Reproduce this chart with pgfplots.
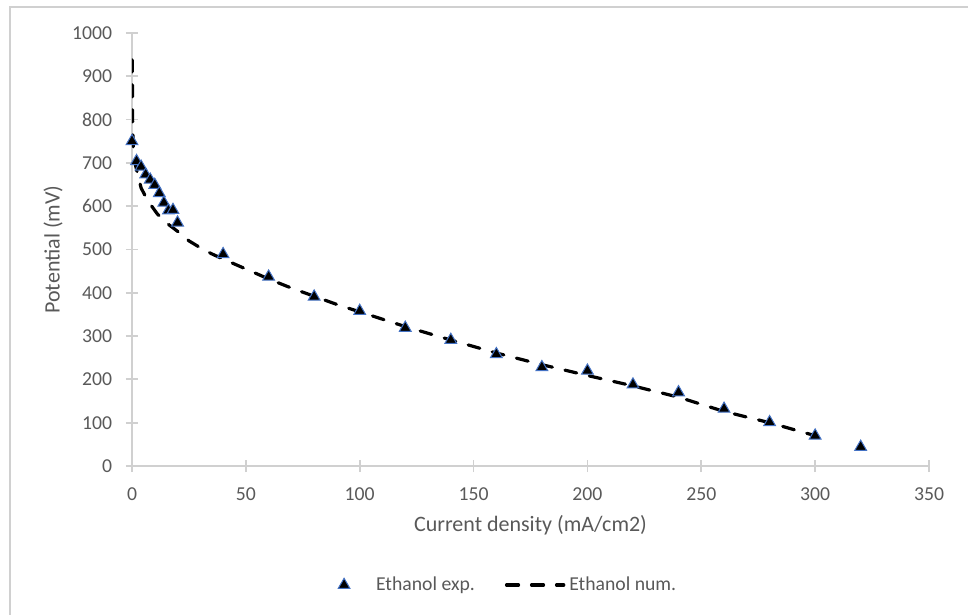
\documentclass[border=0pt]{standalone}
\usepackage{fontspec}
\setmainfont{Carlito}
\usepackage{pgfplots}
\pgfplotsset{compat=1.18}
\definecolor{txt}{HTML}{595959}
\definecolor{axg}{HTML}{D0D0D0}
\definecolor{mkb}{HTML}{4472C4}
\pgfplotsset{
  legA/.style={legend image code/.code={\path[draw=none,fill=none] (0pt,0pt) -- (22pt,0pt); \draw[##1] plot coordinates {(8pt,0pt)};}},
  legB/.style={legend image code/.code={\draw[##1] (0.7pt,0pt) -- (29.3pt,0pt);}},
}
\begin{document}
\begin{tikzpicture}
\useasboundingbox (0,0) rectangle (484pt,307.5pt);
\draw[axg, line width=0.75pt] (5pt,0pt) -- (5pt,304pt) -- (484pt,304pt);
\begin{axis}[
  at={(66pt,74.5pt)}, anchor=south west,
  scale only axis, width=398.5pt, height=216.5pt,
  xmin=0, xmax=350, ymin=0, ymax=1000,
  axis lines=left,
  axis line style={-, draw=axg, line width=0.9pt},
  xtick={0,50,...,350}, ytick={0,100,...,1000},
  tick align=center, major tick length=6pt,
  tick style={draw=axg, line width=0.9pt},
  ticklabel style={font=\fontsize{9.85}{12}\selectfont, text=txt},
  /pgf/number format/assume math mode=true,
  /pgf/number format/1000 sep={},
  yticklabel style={anchor=east, inner sep=0pt, xshift=-6.75pt},
  xticklabel style={anchor=north, inner sep=0pt, yshift=-7.5pt},
  xlabel={Current density (mA/cm2)}, ylabel={Potential (mV)},
  label style={font=\fontsize{11}{13}\selectfont, text=txt},
  xlabel style={at={(axis description cs:0.5,-0.136)}, anchor=center},
  ylabel style={at={(axis description cs:-0.0991,0.5)}, anchor=center},
  legend style={at={(axis description cs:0.238,-0.275)}, anchor=west, draw=none, fill=none,
    font=\fontsize{9.85}{12}\selectfont, text=txt,
    /tikz/every even column/.append style={column sep=13pt}},
  legend columns=2,
  legend cell align=left,
]
\addplot[only marks, mark=triangle*, mark size=3.4pt,
  mark options={fill=black, draw=mkb, line width=0.5pt}, legA]
coordinates {
(0,750) (2,704) (4,691) (6,673) (8,661) (10,649) (12,630) (14,608) (16,590) (18,591) (20,562)
(40,489) (60,437) (80,391) (100,358) (120,319) (140,291) (160,258) (180,228) (200,220)
(220,188) (240,170) (260,132) (280,101) (300,70) (320,44)
};
\addlegendentry{Ethanol exp.}
\addplot[black, line width=1.6pt, dash pattern=on 6pt off 6.5pt, line cap=round, legB]
coordinates {
(0.1,938) (0.3,785) (0.6,730) (1.5,695) (2.8,668) (4,642) (6,622) (8,605) (11,583) (14.5,564)
(20,542) (25,520) (30,504) (35,490) (40,478) (50,455) (60,432) (70,411) (80,392) (90,373)
(100,356) (120,322) (140,291) (160,261) (180,234) (200,209) (220,185) (240,159) (260,126)
(280,100) (300,70)
};
\addlegendentry{Ethanol num.}
\end{axis}
\end{tikzpicture}
\end{document}
